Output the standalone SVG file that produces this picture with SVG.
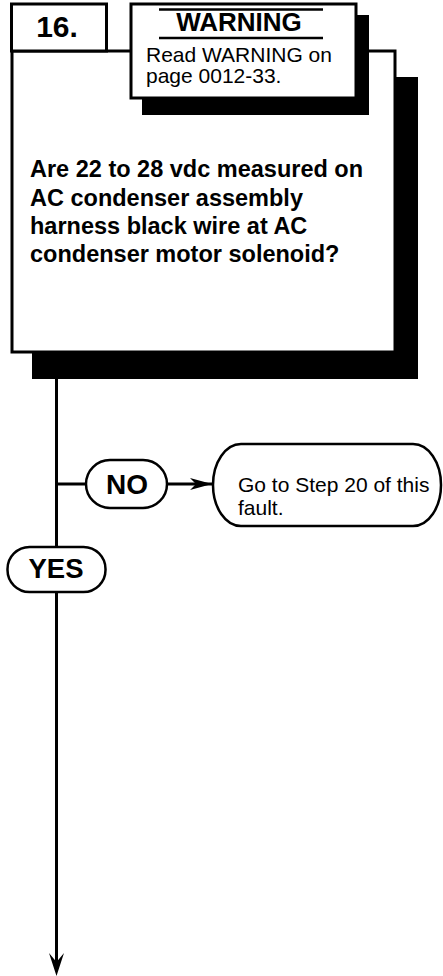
<svg xmlns="http://www.w3.org/2000/svg" width="443" height="976" viewBox="0 0 443 976">
<style>
.box{fill:#fff;stroke:#000;stroke-width:3}
.shadow{fill:#000}
.pill{fill:#fff;stroke:#000;stroke-width:2.5}
.line{stroke:#000;stroke-width:3;fill:none}
.b{font-family:"Liberation Sans",Arial,sans-serif;font-weight:bold;fill:#000}
.r{font-family:"Liberation Sans",Arial,sans-serif;fill:#000}
</style>
<defs>
<marker id="ah" markerWidth="24" markerHeight="14" refX="22" refY="7" orient="auto" markerUnits="userSpaceOnUse">
<path d="M0,1 L22,7 L0,13 L6,7 Z" fill="#000"/>
</marker>
</defs>
<g id="main-box">
<rect class="shadow" x="32" y="77" width="386" height="302"/>
<rect class="box" x="12" y="51" width="383" height="301"/>
<text class="b" font-size="23.5"><tspan x="30" y="177">Are 22 to 28 vdc measured on</tspan><tspan x="30" y="206">AC condenser assembly</tspan><tspan x="30" y="234">harness black wire at AC</tspan><tspan x="30" y="262">condenser motor solenoid?</tspan></text>
</g>
<g id="step-number">
<rect class="box" x="11.5" y="4" width="95" height="47"/>
<text class="b" font-size="30" x="57" y="37" text-anchor="middle">16.</text>
</g>
<g id="warning">
<rect class="shadow" x="142" y="15" width="227" height="100"/>
<rect class="box" x="131" y="4" width="225" height="94"/>
<line x1="159" y1="9.5" x2="323" y2="9.5" stroke="#000" stroke-width="2.5"/>
<line x1="159" y1="38" x2="323" y2="38" stroke="#000" stroke-width="2.5"/>
<text class="b" font-size="26" x="239" y="31" text-anchor="middle">WARNING</text>
<text class="r" font-size="21"><tspan x="146" y="62">Read WARNING on</tspan><tspan x="146" y="83">page 0012-33.</tspan></text>
</g>
<g id="connectors">
<line class="line" x1="56.5" y1="379" x2="56.5" y2="962"/>
<path d="M49,953 L56.5,962 L64,953 L56.5,976 Z" fill="#000"/>
<line class="line" x1="56.5" y1="484" x2="86" y2="484"/>
<line class="line" x1="167" y1="484" x2="212" y2="484" marker-end="url(#ah)"/>
</g>
<g id="no-label">
<rect class="pill" x="86" y="460" width="81" height="48" rx="24" ry="24"/>
<text class="b" font-size="28" x="127" y="494" text-anchor="middle">NO</text>
</g>
<g id="yes-label">
<rect class="pill" x="7.5" y="547" width="98" height="45" rx="22" ry="22"/>
<text class="b" font-size="27.5" x="56" y="578" text-anchor="middle">YES</text>
</g>
<g id="goto">
<rect class="pill" x="213" y="444" width="228" height="82" rx="28" ry="41"/>
<text class="r" font-size="21"><tspan x="238" y="492">Go to Step 20 of this</tspan><tspan x="238" y="515">fault.</tspan></text>
</g>
</svg>
